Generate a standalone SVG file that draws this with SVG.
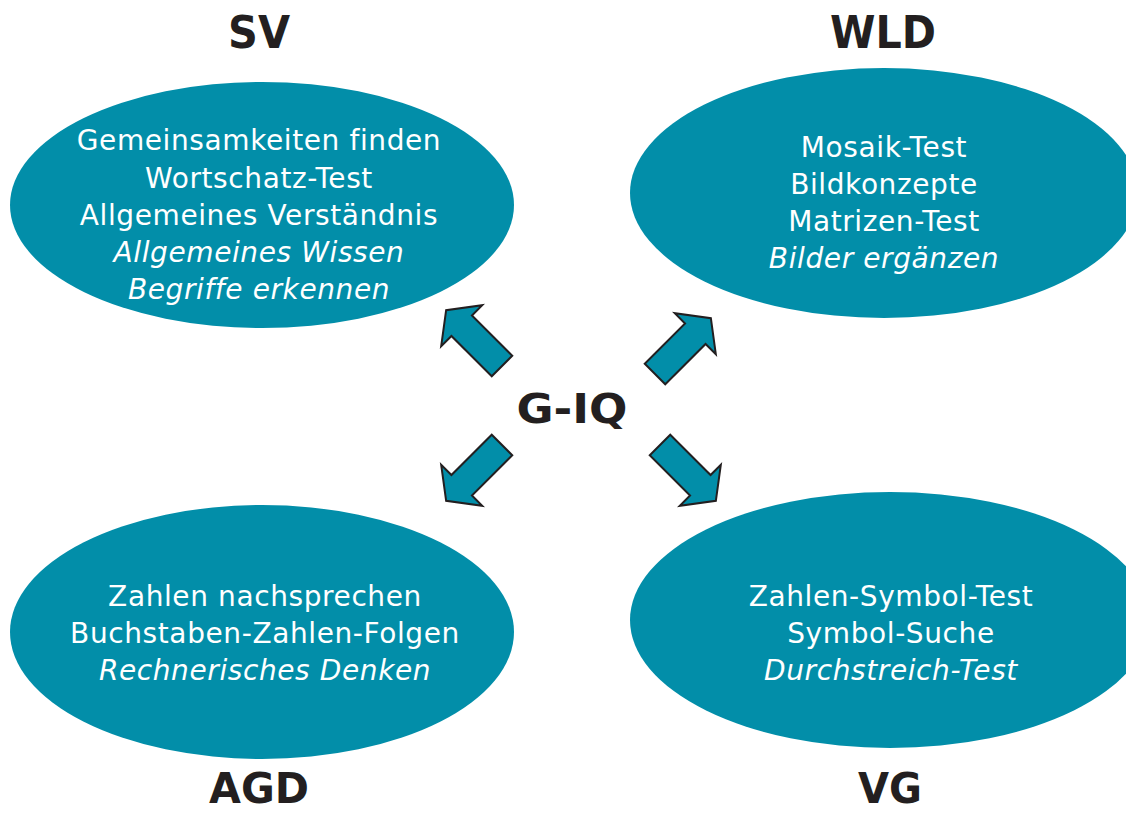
<svg xmlns="http://www.w3.org/2000/svg" width="1126" height="814" viewBox="0 0 1126 814">
<defs>
<style>
.ell{fill:#028ea9;}
.arr{fill:#028ea9;stroke:#231f20;stroke-width:2;stroke-linejoin:miter;}
.t{font-family:"DejaVu Sans",Verdana,sans-serif;font-size:28px;letter-spacing:0.6px;fill:#ffffff;text-anchor:middle;}
.i{font-style:italic;}
.h{font-family:"DejaVu Sans",Verdana,sans-serif;font-weight:bold;font-size:45px;fill:#231f20;text-anchor:middle;}
.hb{font-size:42px;}
.c{font-family:"DejaVu Sans",Verdana,sans-serif;font-weight:bold;font-size:40px;fill:#231f20;text-anchor:middle;}
</style>
<path id="ar" d="M0,-14.5 L57,-14.5 L57,-29 L79,0 L57,29 L57,14.5 L0,14.5 Z"/>
</defs>
<rect width="1126" height="814" fill="#ffffff"/>
<g id="SV">
<ellipse class="ell" cx="262" cy="205" rx="252" ry="123"/>
<text class="t" x="259" y="150">Gemeinsamkeiten finden</text>
<text class="t" x="259" y="188">Wortschatz-Test</text>
<text class="t" x="259" y="225">Allgemeines Verständnis</text>
<text class="t i" x="259" y="262">Allgemeines Wissen</text>
<text class="t i" x="259" y="299">Begriffe erkennen</text>
<text class="h" x="259" y="48" textLength="62" lengthAdjust="spacingAndGlyphs">SV</text>
</g>
<g id="WLD">
<ellipse class="ell" cx="884" cy="193" rx="254" ry="125"/>
<text class="t" x="884" y="157">Mosaik-Test</text>
<text class="t" x="884" y="194">Bildkonzepte</text>
<text class="t" x="884" y="231">Matrizen-Test</text>
<text class="t i" x="884" y="268">Bilder ergänzen</text>
<text class="h" x="883" y="48" textLength="106" lengthAdjust="spacingAndGlyphs">WLD</text>
</g>
<g id="AGD">
<ellipse class="ell" cx="262" cy="632" rx="252" ry="127"/>
<text class="t" x="265" y="606">Zahlen nachsprechen</text>
<text class="t" x="265" y="643">Buchstaben-Zahlen-Folgen</text>
<text class="t i" x="265" y="680">Rechnerisches Denken</text>
<text class="h hb" x="259" y="803" textLength="100" lengthAdjust="spacingAndGlyphs">AGD</text>
</g>
<g id="VG">
<ellipse class="ell" cx="890" cy="620" rx="260" ry="128"/>
<text class="t" x="891" y="606">Zahlen-Symbol-Test</text>
<text class="t" x="891" y="643">Symbol-Suche</text>
<text class="t i" x="891" y="680">Durchstreich-Test</text>
<text class="h hb" x="890" y="803" textLength="64" lengthAdjust="spacingAndGlyphs">VG</text>
</g>
<g id="GIQ">
<text class="c" x="572" y="423" textLength="111" lengthAdjust="spacingAndGlyphs">G-IQ</text>
</g>
<g id="connectors">
<use href="#ar" class="arr" transform="translate(502,366) rotate(225)"/>
<use href="#ar" class="arr" transform="translate(655,374) rotate(-45)"/>
<use href="#ar" class="arr" transform="translate(502,445) rotate(135)"/>
<use href="#ar" class="arr" transform="translate(660,445) rotate(45)"/>
</g>
</svg>
